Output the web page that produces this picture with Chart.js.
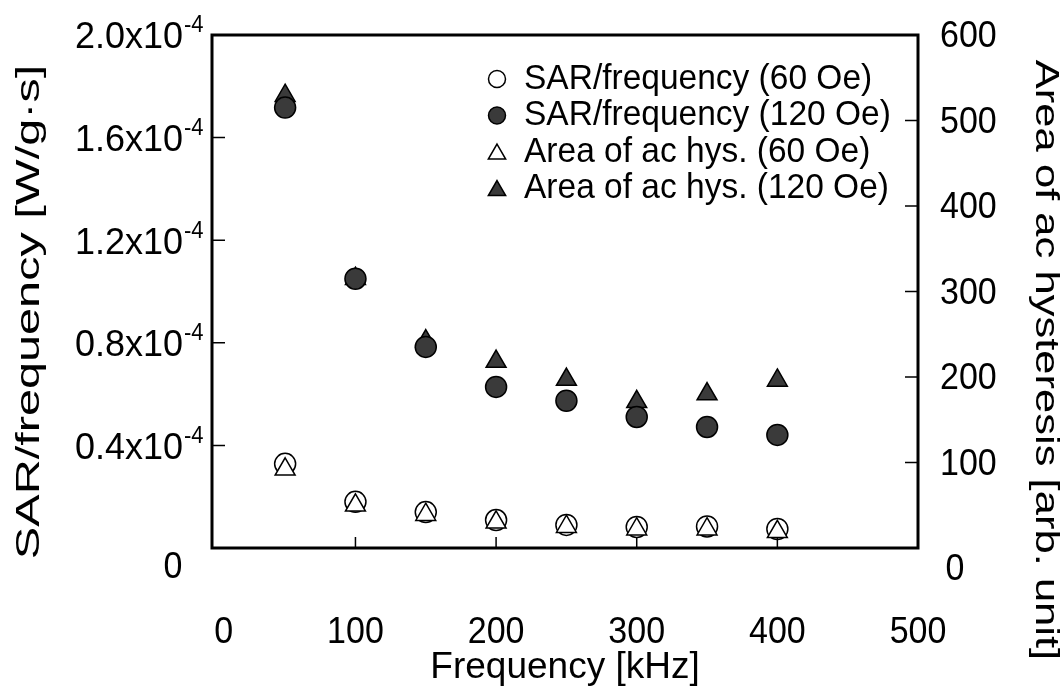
<!DOCTYPE html>
<html><head><meta charset="utf-8">
<script src="https://cdn.jsdelivr.net/npm/chart.js@4.4.1/dist/chart.umd.min.js"></script>
<style>html,body{margin:0;padding:0;background:#fff}#wrap{width:1064px;height:690px;position:relative}</style>
</head><body><div id="wrap"><canvas id="c"></canvas></div>
<script>
const frequencies = [50, 100, 150, 200, 250, 300, 350, 400];
const sar60  = [0.328e-4, 0.180e-4, 0.140e-4, 0.109e-4, 0.090e-4, 0.082e-4, 0.084e-4, 0.074e-4];
const sar120 = [1.717e-4, 1.050e-4, 0.784e-4, 0.628e-4, 0.574e-4, 0.511e-4, 0.472e-4, 0.441e-4];
const area60  = [92, 50, 39, 30, 25, 22, 22, 19];
const area120 = [529, 315, 242, 218, 197, 171, 180, 196];
const seriesLabels = ['SAR/frequency (60 Oe)', 'SAR/frequency (120 Oe)', 'Area of ac hys. (60 Oe)', 'Area of ac hys. (120 Oe)'];
const xTicks = [0, 100, 200, 300, 400, 500];
const xTickLabels = ['0', '100', '200', '300', '400', '500'];
const leftTicks = [0, 0.4e-4, 0.8e-4, 1.2e-4, 1.6e-4, 2.0e-4];
const leftTickMantissa = ['0', '0.4x10', '0.8x10', '1.2x10', '1.6x10', '2.0x10'];
const leftTickExponent = ['', '-4', '-4', '-4', '-4', '-4'];
const rightTicks = [0, 100, 200, 300, 400, 500, 600];
const rightTickLabels = ['0', '100', '200', '300', '400', '500', '600'];
const xTitle = 'Frequency [kHz]';
const leftTitle = 'SAR/frequency [W/g\u00B7s]';
const rightTitle = 'Area of ac hysteresis [arb. unit]';

const FONT = '"Liberation Sans", Arial, Helvetica, sans-serif';
const DARK = '#3a3a3a';

function pts(ys) { return frequencies.map((f, i) => ({x: f, y: ys[i]})); }

const styles = [
  {pointStyle: 'circle', bg: '#ffffff', r: 10.5},
  {pointStyle: 'circle', bg: DARK, r: 10.5},
  {pointStyle: 'triangle', bg: '#ffffff', r: 11.5},
  {pointStyle: 'triangle', bg: DARK, r: 11.5}
];
// drawing layer (lower = on top)
const layerOrder = [2, 0, 1, 3];

function drawMarker(ctx, style, x, y, r, fill) {
  ctx.save();
  ctx.beginPath();
  if (style === 'circle') {
    ctx.arc(x, y, r, 0, Math.PI * 2);
  } else {
    let rad = 0;
    ctx.moveTo(x + Math.sin(rad) * r, y - Math.cos(rad) * r);
    rad += 2 * Math.PI / 3;
    ctx.lineTo(x + Math.sin(rad) * r, y - Math.cos(rad) * r);
    rad += 2 * Math.PI / 3;
    ctx.lineTo(x + Math.sin(rad) * r, y - Math.cos(rad) * r);
    ctx.closePath();
  }
  ctx.fillStyle = fill;
  ctx.fill();
  ctx.lineWidth = 1.5;
  ctx.strokeStyle = '#000';
  ctx.stroke();
  ctx.restore();
}

function txt(ctx, s, x, y, o) {
  ctx.save();
  ctx.translate(x, y);
  if (o.rot) ctx.rotate(o.rot);
  ctx.scale(o.sx || 1, o.sy || 1);
  ctx.font = o.size + 'px ' + FONT;
  ctx.textAlign = o.align || 'center';
  ctx.textBaseline = 'middle';
  ctx.fillStyle = '#000';
  ctx.fillText(s, 0, 0);
  ctx.restore();
}

const decorPlugin = {
  id: 'decor',
  afterDraw(chart) {
    const ctx = chart.ctx;
    const a = chart.chartArea;
    const sx = chart.scales.x, sy = chart.scales.y, sy2 = chart.scales.y2;
    ctx.save();
    ctx.strokeStyle = '#000';
    ctx.lineWidth = 3;
    ctx.strokeRect(a.left, a.top, a.right - a.left, a.bottom - a.top);
    ctx.lineWidth = 1.5;
    ctx.beginPath();
    xTicks.forEach(v => {
      if (v === xTicks[0] || v === xTicks[xTicks.length - 1]) return;
      const px = sx.getPixelForValue(v);
      ctx.moveTo(px, a.bottom); ctx.lineTo(px, a.bottom - 11);
    });
    leftTicks.forEach(v => {
      if (v === leftTicks[0] || v === leftTicks[leftTicks.length - 1]) return;
      const py = sy.getPixelForValue(v);
      ctx.moveTo(a.left, py); ctx.lineTo(a.left + 13, py);
    });
    rightTicks.forEach(v => {
      if (v === rightTicks[0] || v === rightTicks[rightTicks.length - 1]) return;
      const py = sy2.getPixelForValue(v);
      ctx.moveTo(a.right, py); ctx.lineTo(a.right - 13, py);
    });
    ctx.stroke();
    ctx.restore();

    xTicks.forEach((v, i) => {
      const px = sx.getPixelForValue(v) + (v === 0 ? 9 : 0);
      txt(ctx, xTickLabels[i], px, 633, {size: 34, sy: 1.08});
    });
    rightTicks.forEach((v, i) => {
      const py = sy2.getPixelForValue(v) + (v === 0 ? 22 : 2);
      txt(ctx, rightTickLabels[i], v === 0 ? 955 : 940, py, {size: 34, sy: 1.08, align: v === 0 ? 'center' : 'left'});
    });
    leftTicks.forEach((v, i) => {
      const py = sy.getPixelForValue(v);
      if (leftTickExponent[i] === '') {
        txt(ctx, leftTickMantissa[i], 173, py + 20, {size: 34, sy: 1.08});
      } else {
        txt(ctx, leftTickMantissa[i], 183, py + 3, {size: 36, sy: 1.05, align: 'right'});
        txt(ctx, leftTickExponent[i], 184, py - 9, {size: 22, sy: 1.05, align: 'left'});
      }
    });
    txt(ctx, xTitle, (a.left + a.right) / 2, 668, {size: 37});
    txt(ctx, leftTitle, 30, 312, {size: 34, sx: 1.43, rot: -Math.PI / 2});
    txt(ctx, rightTitle, 1045, 360, {size: 33, sx: 1.32, rot: Math.PI / 2});

    const lx = 497, tx = 524, y0 = 79, dy = 36.5;
    chart.data.datasets.forEach((ds, i) => {
      const y = y0 + i * dy;
      const st = styles[i];
      drawMarker(ctx, st.pointStyle, lx, y + (st.pointStyle === 'triangle' ? 2 : 0), st.pointStyle === 'circle' ? 8.5 : 10, st.bg);
      txt(ctx, ds.label, tx, y, {size: 33.5, sy: 1.05, align: 'left'});
    });
  }
};

const datasets = [
  {label: seriesLabels[0], data: pts(sar60), yAxisID: 'y'},
  {label: seriesLabels[1], data: pts(sar120), yAxisID: 'y'},
  {label: seriesLabels[2], data: pts(area60), yAxisID: 'y2'},
  {label: seriesLabels[3], data: pts(area120), yAxisID: 'y2'}
].map((d, i) => Object.assign(d, {
  order: layerOrder[i],
  showLine: false,
  pointStyle: styles[i].pointStyle,
  pointRadius: styles[i].r,
  pointHoverRadius: styles[i].r,
  pointBackgroundColor: styles[i].bg,
  pointBorderColor: '#000',
  pointBorderWidth: 1.5,
  borderColor: '#000',
  backgroundColor: styles[i].bg
}));

new Chart(document.getElementById('c'), {
  type: 'scatter',
  data: {datasets},
  options: {
    responsive: true,
    maintainAspectRatio: false,
    animation: false,
    events: [],
    layout: {padding: {top: 35, left: 0, right: 0, bottom: 0}},
    plugins: {legend: {display: false}, tooltip: {enabled: false}},
    scales: {
      x: {
        type: 'linear', min: -2, max: 500,
        afterBuildTicks: s => { s.ticks = xTicks.map(v => ({value: v})); },
        afterFit: s => { s.height = 142; },
        grid: {display: false}, border: {display: false},
        ticks: {display: false},
        title: {display: false, text: xTitle}
      },
      y: {
        type: 'linear', position: 'left', min: 0, max: 2.0e-4,
        afterBuildTicks: s => { s.ticks = leftTicks.map(v => ({value: v})); },
        afterFit: s => { s.width = 212; },
        grid: {display: false}, border: {display: false},
        ticks: {display: false},
        title: {display: false, text: leftTitle}
      },
      y2: {
        type: 'linear', position: 'right', min: 0, max: 600,
        afterBuildTicks: s => { s.ticks = rightTicks.map(v => ({value: v})); },
        afterFit: s => { s.width = 146; },
        grid: {display: false}, border: {display: false},
        ticks: {display: false},
        title: {display: false, text: rightTitle}
      }
    }
  },
  plugins: [decorPlugin]
});
</script>
</body></html>
